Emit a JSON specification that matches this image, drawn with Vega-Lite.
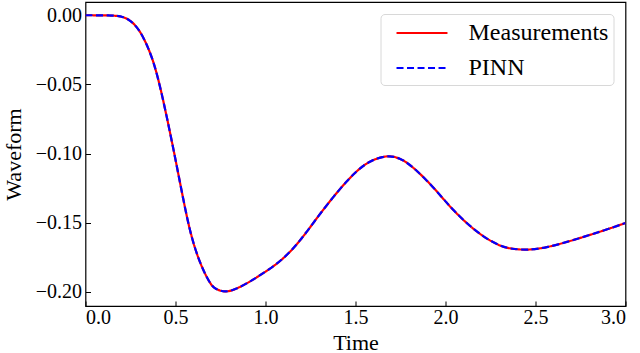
{
  "$schema": "https://vega.github.io/schema/vega-lite/v6.json",
  "width": 540,
  "height": 304,
  "autosize": {"type": "none"},
  "padding": {"left": 85.5, "top": 2, "right": 14.5, "bottom": 47},
  "background": "white",
  "config": {
    "view": {"stroke": "black", "strokeWidth": 1.2},
    "font": "Liberation Serif",
    "axis": {
      "domain": false,
      "grid": false,
      "tickColor": "black",
      "tickSize": -5,
      "tickWidth": 1,
      "labelColor": "black",
      "titleColor": "black",
      "labelFont": "Liberation Serif",
      "titleFont": "Liberation Serif",
      "labelFontSize": 20,
      "titleFontSize": 22,
      "titleFontWeight": "normal"
    },
    "legend": {
      "labelFont": "Liberation Serif",
      "labelFontSize": 24,
      "labelColor": "black"
    }
  },
  "data": {
    "values": [
      {"t": 0.0, "v": 0.0, "series": "Measurements"},
      {"t": 0.1, "v": 0.0, "series": "Measurements"},
      {"t": 0.174, "v": -0.0003, "series": "Measurements"},
      {"t": 0.21, "v": -0.0012, "series": "Measurements"},
      {"t": 0.248, "v": -0.0036, "series": "Measurements"},
      {"t": 0.285, "v": -0.0083, "series": "Measurements"},
      {"t": 0.322, "v": -0.0157, "series": "Measurements"},
      {"t": 0.378, "v": -0.0325, "series": "Measurements"},
      {"t": 0.424, "v": -0.0566, "series": "Measurements"},
      {"t": 0.471, "v": -0.0855, "series": "Measurements"},
      {"t": 0.508, "v": -0.1096, "series": "Measurements"},
      {"t": 0.544, "v": -0.1337, "series": "Measurements"},
      {"t": 0.582, "v": -0.1577, "series": "Measurements"},
      {"t": 0.632, "v": -0.1785, "series": "Measurements"},
      {"t": 0.691, "v": -0.1942, "series": "Measurements"},
      {"t": 0.72, "v": -0.198, "series": "Measurements"},
      {"t": 0.775, "v": -0.2005, "series": "Measurements"},
      {"t": 0.83, "v": -0.1985, "series": "Measurements"},
      {"t": 0.913, "v": -0.1928, "series": "Measurements"},
      {"t": 0.971, "v": -0.1879, "series": "Measurements"},
      {"t": 1.062, "v": -0.1802, "series": "Measurements"},
      {"t": 1.137, "v": -0.1712, "series": "Measurements"},
      {"t": 1.191, "v": -0.1631, "series": "Measurements"},
      {"t": 1.247, "v": -0.1536, "series": "Measurements"},
      {"t": 1.302, "v": -0.1437, "series": "Measurements"},
      {"t": 1.413, "v": -0.1254, "series": "Measurements"},
      {"t": 1.506, "v": -0.1124, "series": "Measurements"},
      {"t": 1.58, "v": -0.1052, "series": "Measurements"},
      {"t": 1.672, "v": -0.1012, "series": "Measurements"},
      {"t": 1.746, "v": -0.103, "series": "Measurements"},
      {"t": 1.82, "v": -0.1096, "series": "Measurements"},
      {"t": 1.931, "v": -0.124, "series": "Measurements"},
      {"t": 2.024, "v": -0.1385, "series": "Measurements"},
      {"t": 2.117, "v": -0.1505, "series": "Measurements"},
      {"t": 2.209, "v": -0.1602, "series": "Measurements"},
      {"t": 2.302, "v": -0.1669, "series": "Measurements"},
      {"t": 2.357, "v": -0.1688, "series": "Measurements"},
      {"t": 2.452, "v": -0.17, "series": "Measurements"},
      {"t": 2.563, "v": -0.1681, "series": "Measurements"},
      {"t": 2.711, "v": -0.1626, "series": "Measurements"},
      {"t": 2.859, "v": -0.1566, "series": "Measurements"},
      {"t": 3.0, "v": -0.1503, "series": "Measurements"},
      {"t": 0.0, "v": 0.0, "series": "PINN"},
      {"t": 0.1, "v": 0.0, "series": "PINN"},
      {"t": 0.174, "v": -0.0003, "series": "PINN"},
      {"t": 0.21, "v": -0.0012, "series": "PINN"},
      {"t": 0.248, "v": -0.0036, "series": "PINN"},
      {"t": 0.285, "v": -0.0083, "series": "PINN"},
      {"t": 0.322, "v": -0.0157, "series": "PINN"},
      {"t": 0.378, "v": -0.0325, "series": "PINN"},
      {"t": 0.424, "v": -0.0566, "series": "PINN"},
      {"t": 0.471, "v": -0.0855, "series": "PINN"},
      {"t": 0.508, "v": -0.1096, "series": "PINN"},
      {"t": 0.544, "v": -0.1337, "series": "PINN"},
      {"t": 0.582, "v": -0.1577, "series": "PINN"},
      {"t": 0.632, "v": -0.1785, "series": "PINN"},
      {"t": 0.691, "v": -0.1942, "series": "PINN"},
      {"t": 0.72, "v": -0.198, "series": "PINN"},
      {"t": 0.775, "v": -0.2005, "series": "PINN"},
      {"t": 0.83, "v": -0.1985, "series": "PINN"},
      {"t": 0.913, "v": -0.1928, "series": "PINN"},
      {"t": 0.971, "v": -0.1879, "series": "PINN"},
      {"t": 1.062, "v": -0.1802, "series": "PINN"},
      {"t": 1.137, "v": -0.1712, "series": "PINN"},
      {"t": 1.191, "v": -0.1631, "series": "PINN"},
      {"t": 1.247, "v": -0.1536, "series": "PINN"},
      {"t": 1.302, "v": -0.1437, "series": "PINN"},
      {"t": 1.413, "v": -0.1254, "series": "PINN"},
      {"t": 1.506, "v": -0.1124, "series": "PINN"},
      {"t": 1.58, "v": -0.1052, "series": "PINN"},
      {"t": 1.672, "v": -0.1012, "series": "PINN"},
      {"t": 1.746, "v": -0.103, "series": "PINN"},
      {"t": 1.82, "v": -0.1096, "series": "PINN"},
      {"t": 1.931, "v": -0.124, "series": "PINN"},
      {"t": 2.024, "v": -0.1385, "series": "PINN"},
      {"t": 2.117, "v": -0.1505, "series": "PINN"},
      {"t": 2.209, "v": -0.1602, "series": "PINN"},
      {"t": 2.302, "v": -0.1669, "series": "PINN"},
      {"t": 2.357, "v": -0.1688, "series": "PINN"},
      {"t": 2.452, "v": -0.17, "series": "PINN"},
      {"t": 2.563, "v": -0.1681, "series": "PINN"},
      {"t": 2.711, "v": -0.1626, "series": "PINN"},
      {"t": 2.859, "v": -0.1566, "series": "PINN"},
      {"t": 3.0, "v": -0.1503, "series": "PINN"}
    ]
  },
  "mark": {"type": "line", "strokeWidth": 2.2, "interpolate": "basis", "clip": true},
  "encoding": {
    "x": {
      "field": "t",
      "type": "quantitative",
      "title": "Time",
      "scale": {"domain": [0, 3], "nice": false},
      "axis": {"values": [0, 0.5, 1, 1.5, 2, 2.5, 3], "format": ".1f", "labelPadding": 6, "titleBaseline": "alphabetic", "titleY": 43}
    },
    "y": {
      "field": "v",
      "type": "quantitative",
      "title": "Waveform",
      "scale": {"domain": [-0.2103, 0.0096], "nice": false, "zero": false},
      "axis": {"values": [0, -0.05, -0.1, -0.15, -0.2], "format": ".2f", "labelPadding": 9, "titleBaseline": "alphabetic", "titleX": -65}
    },
    "color": {
      "field": "series",
      "type": "nominal",
      "scale": {"domain": ["Measurements", "PINN"], "range": ["#ff0000", "#0000ff"]},
      "legend": {
        "title": null,
        "orient": "top-right",
        "offset": 12,
        "padding": 5,
        "fillColor": "white",
        "strokeColor": "#d8d8d8",
        "cornerRadius": 4,
        "symbolType": "M-1.96,0H1.96",
        "symbolSize": 676,
        "symbolStrokeWidth": 2,
        "symbolOffset": 22.5,
        "labelOffset": 32.5,
        "rowPadding": 9
      }
    },
    "strokeDash": {
      "field": "series",
      "type": "nominal",
      "scale": {"domain": ["Measurements", "PINN"], "range": [[1, 0], [7, 3.5]]},
      "legend": {
        "title": null,
        "orient": "top-right",
        "offset": 12,
        "padding": 5,
        "fillColor": "white",
        "strokeColor": "#d8d8d8",
        "cornerRadius": 4,
        "symbolType": "M-1.96,0H1.96",
        "symbolSize": 676,
        "symbolStrokeWidth": 2,
        "symbolOffset": 22.5,
        "labelOffset": 32.5,
        "rowPadding": 9
      }
    }
  }
}
